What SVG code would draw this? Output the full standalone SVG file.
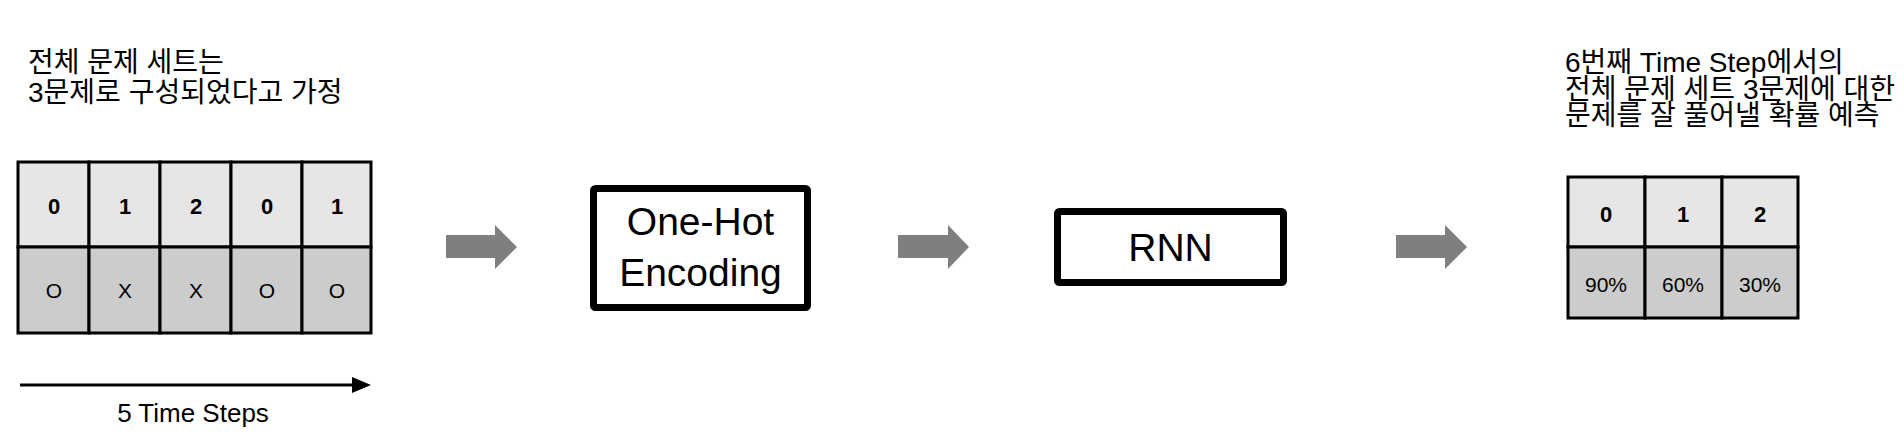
<svg xmlns="http://www.w3.org/2000/svg" width="1904" height="436" viewBox="0 0 1904 436">
  <style>
    text { font-family: "Liberation Sans", "Noto Sans CJK KR", sans-serif; fill: #000; }
    .note { font-size: 28px; }
    .hdr { fill: #e6e6e6; stroke: #000; stroke-width: 3; }
    .val { fill: #cccccc; stroke: #000; stroke-width: 3; }
    .num { font-size: 22px; font-weight: bold; text-anchor: middle; }
    .res { font-size: 21px; text-anchor: middle; }
    .box { fill: #fff; stroke: #000; stroke-width: 7; }
    .boxtxt { font-size: 39px; text-anchor: middle; }
    .flow { fill: #7f7f7f; }
  </style>

  <g id="input-note">
    <text class="note" x="28" y="72">전체 문제 세트는</text>
    <text class="note" x="28" y="102">3문제로 구성되었다고 가정</text>
  </g>

  <g id="input-table">
    <rect class="hdr" x="18" y="162" width="71" height="85"/>
    <rect class="hdr" x="89" y="162" width="71" height="85"/>
    <rect class="hdr" x="160" y="162" width="71" height="85"/>
    <rect class="hdr" x="231" y="162" width="71" height="85"/>
    <rect class="hdr" x="302" y="162" width="69" height="85"/>
    <rect class="val" x="18" y="247" width="71" height="86"/>
    <rect class="val" x="89" y="247" width="71" height="86"/>
    <rect class="val" x="160" y="247" width="71" height="86"/>
    <rect class="val" x="231" y="247" width="71" height="86"/>
    <rect class="val" x="302" y="247" width="69" height="86"/>
    <text class="num" x="54" y="214">0</text>
    <text class="num" x="125" y="214">1</text>
    <text class="num" x="196" y="214">2</text>
    <text class="num" x="267" y="214">0</text>
    <text class="num" x="337" y="214">1</text>
    <text class="res" x="54" y="298">O</text>
    <text class="res" x="125" y="298">X</text>
    <text class="res" x="196" y="298">X</text>
    <text class="res" x="267" y="298">O</text>
    <text class="res" x="337" y="298">O</text>
  </g>

  <g id="time-axis">
    <line x1="20" y1="385" x2="356" y2="385" stroke="#000" stroke-width="3"/>
    <polygon points="352,377 371,385 352,393" fill="#000"/>
    <text x="193" y="422" font-size="26" text-anchor="middle">5 Time Steps</text>
  </g>

  <g id="onehot">
    <rect class="box" x="593.5" y="188.5" width="214" height="119" rx="2"/>
    <text class="boxtxt" x="700.5" y="235">One-Hot</text>
    <text class="boxtxt" x="700.5" y="286">Encoding</text>
  </g>

  <g id="rnn">
    <rect class="box" x="1057.5" y="211.5" width="226" height="71" rx="2"/>
    <text class="boxtxt" x="1170.5" y="261" font-size="38">RNN</text>
  </g>

  <g id="output-note">
    <text class="note" x="1565" y="72">6번째 Time Step에서의</text>
    <text class="note" x="1565" y="98.5">전체 문제 세트 3문제에 대한</text>
    <text class="note" x="1565" y="125">문제를 잘 풀어낼 확률 예측</text>
  </g>

  <g id="output-table">
    <rect class="hdr" x="1568" y="177" width="77" height="70"/>
    <rect class="hdr" x="1645" y="177" width="77" height="70"/>
    <rect class="hdr" x="1722" y="177" width="76" height="70"/>
    <rect class="val" x="1568" y="247" width="77" height="71"/>
    <rect class="val" x="1645" y="247" width="77" height="71"/>
    <rect class="val" x="1722" y="247" width="76" height="71"/>
    <text class="num" x="1606" y="222" font-size="23">0</text>
    <text class="num" x="1683" y="222" font-size="23">1</text>
    <text class="num" x="1760" y="222" font-size="23">2</text>
    <text class="res" x="1606" y="292">90%</text>
    <text class="res" x="1683" y="292">60%</text>
    <text class="res" x="1760" y="292">30%</text>
  </g>

  <g id="connectors">
    <polygon class="flow" points="446,235 495,235 495,225 517,247 495,269 495,258 446,258"/>
    <polygon class="flow" points="898,235 948,235 948,225 969,247 948,269 948,258 898,258"/>
    <polygon class="flow" points="1396,235 1445,235 1445,225 1467,247 1445,269 1445,258 1396,258"/>
  </g>
</svg>
